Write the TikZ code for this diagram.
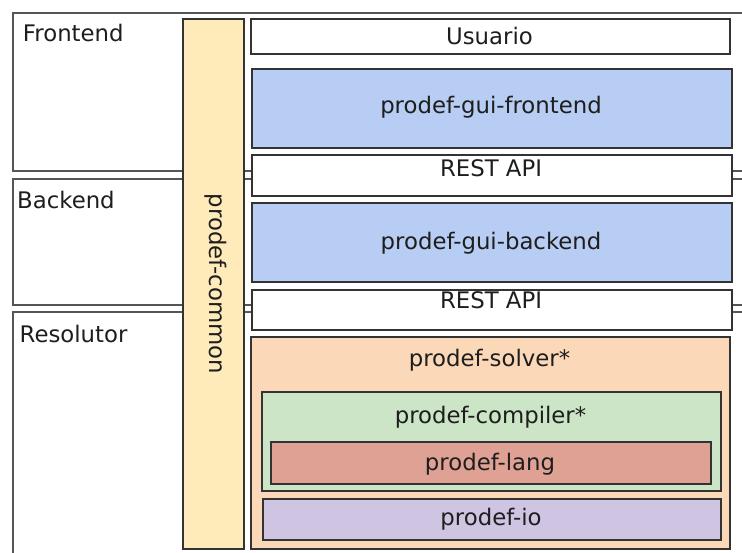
\documentclass[tikz,border=0pt]{standalone}
\usepackage{fontspec}
\setmainfont{DejaVu Sans}
\definecolor{txt}{HTML}{1E1E1E}
\definecolor{edge}{HTML}{333333}
\definecolor{layeredge}{HTML}{555555}
\definecolor{commonfill}{HTML}{FEEBB9}
\definecolor{guifill}{HTML}{B8CDF3}
\definecolor{solverfill}{HTML}{FBD9B8}
\definecolor{compfill}{HTML}{CCE5C6}
\definecolor{langfill}{HTML}{E0A195}
\definecolor{iofill}{HTML}{CFC5E3}
\tikzset{
  layerbox/.style={draw=layeredge, line width=1.7pt, fill=white, inner sep=0pt, anchor=north west},
  modbox/.style={draw=edge, line width=1.6pt, inner sep=0pt, anchor=north west},
  lbl/.style={text=txt, font=\fontsize{22.8}{27}\selectfont, inner sep=0pt, anchor=base},
  lbll/.style={lbl, anchor=base west}
}
\begin{document}
\begin{tikzpicture}[x=1pt,y=-1pt]
\clip (0,0) rectangle (742,553);
\fill[white] (0,0) rectangle (742,553);
% layers
\node[layerbox, minimum width=760, minimum height=158] (fe) at (12,12) {};
\node[layerbox, minimum width=760, minimum height=126] (be) at (12,178) {};
\node[layerbox, minimum width=760, minimum height=270] (re) at (12,311.5) {};
\node[lbll] (fet) at (22.8,42) {Frontend};
\node[lbll] (bet) at (17,209) {Backend};
\node[lbll] (ret) at (19.5,343) {Resolutor};
% common
\node[modbox, fill=commonfill, minimum width=61, minimum height=530] (common) at (182,18) {};
\node[lbl, rotate=-90] (commont) at (209,284) {prodef-common};
% modules
\node[modbox, fill=white, minimum width=479, minimum height=35] (usr) at (250,18) {};
\node[lbl] (usrt) at (489.5,45) {Usuario};
\node[modbox, fill=guifill, minimum width=480, minimum height=79] (guife) at (251,68) {};
\node[lbl] (guifet) at (491,113.5) {prodef-gui-frontend};
\node[modbox, fill=white, minimum width=480, minimum height=41] (rest1) at (251,154) {};
\node[lbl] (rest1t) at (491,176.5) {REST API};
\node[modbox, fill=guifill, minimum width=480, minimum height=79] (guibe) at (251,202) {};
\node[lbl] (guibet) at (491,250) {prodef-gui-backend};
\node[modbox, fill=white, minimum width=480, minimum height=40] (rest2) at (251,289) {};
\node[lbl] (rest2t) at (491,309) {REST API};
\node[modbox, fill=solverfill, minimum width=479, minimum height=212] (solver) at (250,336) {};
\node[lbl] (solvert) at (489.5,366.5) {prodef-solver*};
\node[modbox, fill=compfill, minimum width=459, minimum height=99] (comp) at (261,391) {};
\node[lbl] (compt) at (490.5,423) {prodef-compiler*};
\node[modbox, fill=langfill, minimum width=440, minimum height=42] (lang) at (270,441) {};
\node[lbl] (langt) at (490,470) {prodef-lang};
\node[modbox, fill=iofill, minimum width=458, minimum height=41] (io) at (262,498) {};
\node[lbl] (iot) at (491,525) {prodef-io};
\end{tikzpicture}
\end{document}
